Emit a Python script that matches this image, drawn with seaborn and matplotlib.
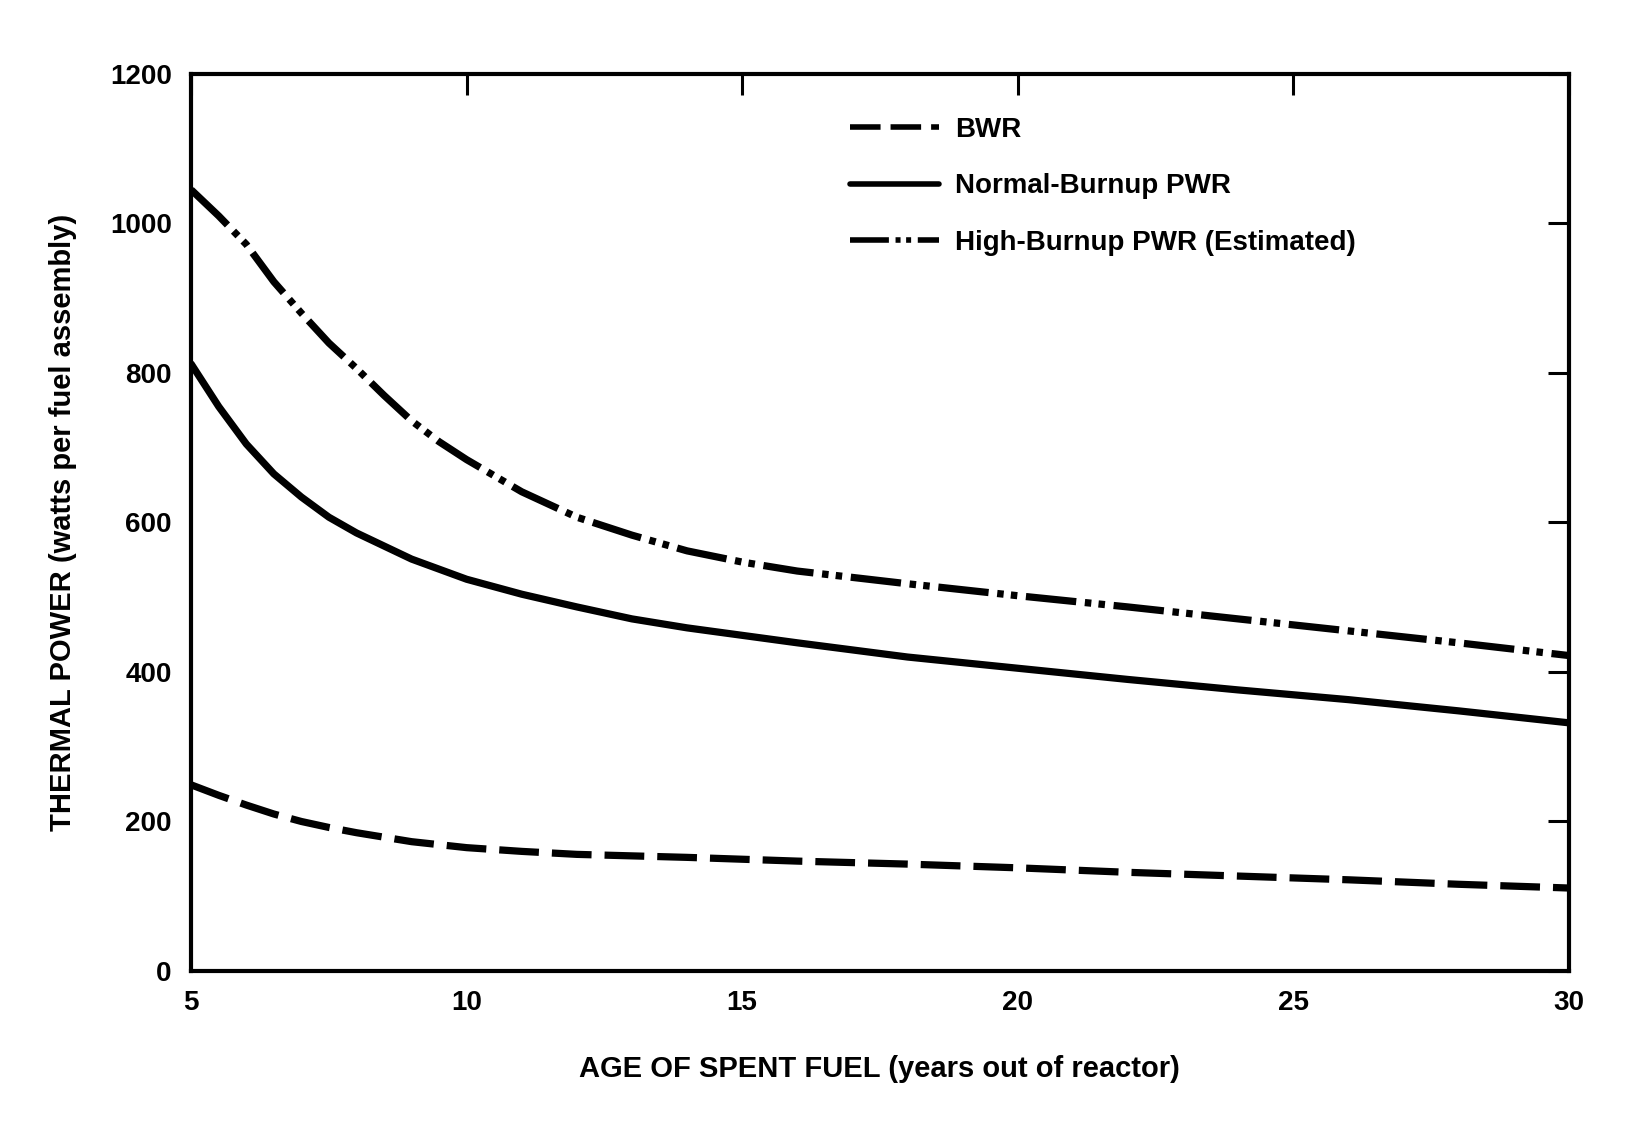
"""
Spent fuel decay heat per assembly vs. age (BWR / PWR / high-burnup PWR)
"""

import matplotlib
matplotlib.use("Agg")
import matplotlib.pyplot as plt
import seaborn as sns

# ── data (years out of reactor, watts per fuel assembly)
years_bwr = [5, 5.5, 6, 6.5, 7, 7.5, 8, 9, 10, 11, 12, 14, 16, 18, 20, 22, 24, 26, 28, 30]
bwr       = [249, 235, 222, 210, 200, 192, 185, 173, 165, 160, 156, 152, 147, 143, 138, 132, 127, 122, 116, 111]

years_pwr = [5, 5.5, 6, 6.5, 7, 7.5, 8, 9, 10, 11, 12, 13, 14, 16, 18, 20, 22, 24, 26, 28, 30]
pwr       = [812, 755, 705, 665, 634, 607, 586, 551, 524, 504, 487, 471, 459, 439, 420, 405, 390, 376, 363, 348, 332]

years_hb  = [5, 5.5, 6, 6.5, 7, 7.5, 8, 8.5, 9, 9.5, 10, 11, 12, 13, 14, 15, 16, 18, 20, 22, 24, 26, 28, 30]
hb_pwr    = [1045, 1010, 972, 922, 880, 840, 806, 770, 736, 708, 684, 641, 607, 583, 562, 547, 535, 518, 502, 487, 471, 455, 439, 422]

labels = ["BWR", "Normal-Burnup PWR", "High-Burnup PWR (Estimated)"]
x_ticks = [5, 10, 15, 20, 25, 30]
y_ticks = [0, 200, 400, 600, 800, 1000, 1200]

sns.set_style("white")
plt.rcParams["font.family"] = ["Liberation Sans", "DejaVu Sans"]
plt.rcParams["font.weight"] = "bold"
plt.rcParams["text.color"] = "black"
plt.rcParams["axes.labelcolor"] = "black"

fig = plt.figure(figsize=(16.34, 11.37), dpi=100)
ax = fig.add_axes([0.117, 0.146, 0.843, 0.789])

LW = 5.2
sns.lineplot(x=years_bwr, y=bwr, ax=ax, color="black", lw=LW,
             linestyle=(0, (5.5, 1.8)), label=labels[0])
sns.lineplot(x=years_pwr, y=pwr, ax=ax, color="black", lw=LW,
             linestyle="-", label=labels[1])
sns.lineplot(x=years_hb, y=hb_pwr, ax=ax, color="black", lw=LW,
             linestyle=(0, (7, 1.2, 0.9, 1.0, 0.9, 1.2)), label=labels[2])

ax.set_xlim(5, 30); ax.set_ylim(0, 1200)
ax.set_xticks(x_ticks); ax.set_yticks(y_ticks)
ax.tick_params(direction="in", top=True, right=True, length=15, width=2.2,
               labelsize=20, pad=14, colors="black")
for lab in ax.get_xticklabels() + ax.get_yticklabels():
    lab.set_fontweight("bold")
for sp in ax.spines.values():
    sp.set_linewidth(3); sp.set_color("black"); sp.set_visible(True)

ax.set_xlabel("AGE OF SPENT FUEL (years out of reactor)", fontsize=21, fontweight="bold",
              labelpad=28, color="black")
ax.set_ylabel("THERMAL POWER (watts per fuel assembly)", fontsize=21, fontweight="bold",
              labelpad=24, color="black")

leg = ax.legend(loc="upper left", bbox_to_anchor=(0.46, 0.98), frameon=False,
                handlelength=3.2, handletextpad=0.6, labelspacing=1.1,
                prop={"size": 20, "weight": "bold"})
for ln in leg.get_lines():
    ln.set_linewidth(4)
for t in leg.get_texts():
    t.set_color("black")

fig.savefig("out.png", dpi=100, facecolor="white")
plt.close()
